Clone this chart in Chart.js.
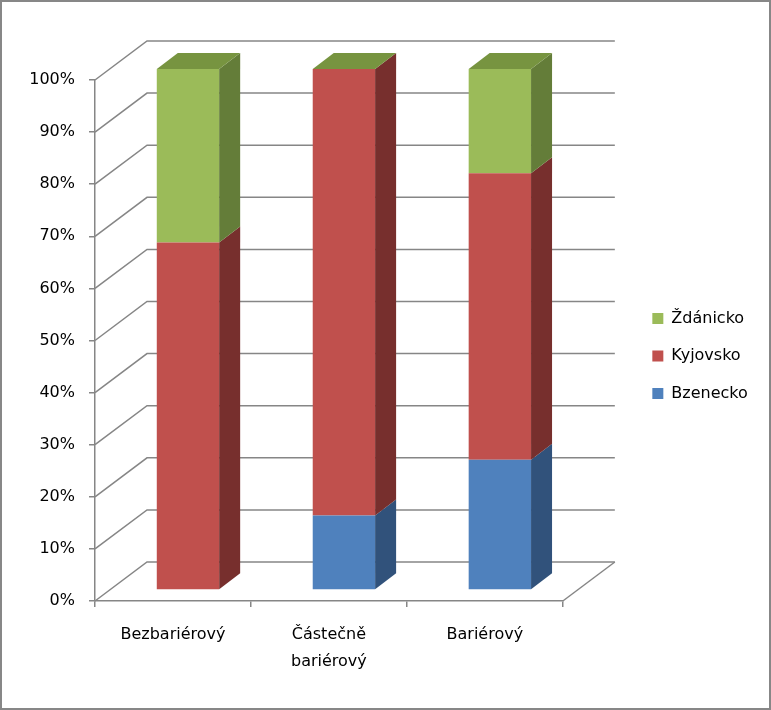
<!DOCTYPE html>
<html lang="cs">
<head>
<meta charset="utf-8">
<title>Bariérovost</title>
<script src="https://cdn.jsdelivr.net/npm/chart.js@4.4.1/dist/chart.umd.min.js"></script>
<style>
	html, body { margin: 0; padding: 0; background: #fff; }
	canvas { display: block; }
</style>
</head>
<body>
<canvas id="chart" width="771" height="710"></canvas>
<script>
// data (procenta, sloupce 100 %)
const categories = ["Bezbariérový", ["Částečně", "bariérový"], "Bariérový"];
const bzenecko = [0, 14.3, 25];
const kyjovsko = [66.7, 85.7, 55];
const zdanicko = [33.3, 0, 20];
const yTicks = [0, 10, 20, 30, 40, 50, 60, 70, 80, 90, 100];

// barvy: přední stěna, bok, vršek
const frontColors = ["#4F81BD", "#C0504D", "#9BBB59"];
const sideColors = ["#31527B", "#772F2D", "#647D39"];
const topColor = "#779440";
const lineColor = "#868686";

// 3D posuny
const wallDepth = { x: 52, y: -39 };
const barShift = { x: 15, y: -11 };
const barDepth = { x: 21, y: -16 };

const fake3d = {
	id: "fake3d",
	beforeDraw(chart) {
		const ctx = chart.ctx;
		ctx.save();
		ctx.fillStyle = "#fff";
		ctx.fillRect(0, 0, chart.width, chart.height);
		ctx.strokeStyle = "#878787";
		ctx.lineWidth = 2;
		ctx.strokeRect(1, 1, chart.width - 2, chart.height - 2);
		ctx.restore();
	},
	beforeDatasetsDraw(chart) {
		const ctx = chart.ctx;
		const area = chart.chartArea;
		const y = chart.scales.y;
		ctx.save();
		ctx.strokeStyle = lineColor;
		ctx.lineWidth = 1.5;
		// zadní stěna s mřížkou
		yTicks.forEach((v) => {
			const py = y.getPixelForValue(v);
			ctx.beginPath();
			ctx.moveTo(area.left, py);
			ctx.lineTo(area.left + wallDepth.x, py + wallDepth.y);
			ctx.lineTo(area.right + wallDepth.x, py + wallDepth.y);
			ctx.stroke();
		});
		// pravý okraj podlahy
		ctx.beginPath();
		ctx.moveTo(area.right, area.bottom);
		ctx.lineTo(area.right + wallDepth.x, area.bottom + wallDepth.y);
		ctx.stroke();
		ctx.restore();

		ctx.save();
		ctx.translate(barShift.x, barShift.y);
	},
	afterDatasetsDraw(chart) {
		const ctx = chart.ctx;
		ctx.restore();
		ctx.save();
		ctx.translate(barShift.x, barShift.y);
		const n = chart.data.datasets.length;
		for (let d = 0; d < n; d++) {
			const meta = chart.getDatasetMeta(d);
			meta.data.forEach((bar) => {
				const p = bar.getProps(["x", "y", "base", "width"], true);
				const xr = p.x + p.width / 2;
				if (Math.abs(p.base - p.y) > 0.5) {
					ctx.fillStyle = sideColors[d];
					ctx.beginPath();
					ctx.moveTo(xr, p.y);
					ctx.lineTo(xr + barDepth.x, p.y + barDepth.y);
					ctx.lineTo(xr + barDepth.x, p.base + barDepth.y);
					ctx.lineTo(xr, p.base);
					ctx.closePath();
					ctx.fill();
				}
				if (d === n - 1) {
					const xl = p.x - p.width / 2;
					ctx.fillStyle = topColor;
					ctx.beginPath();
					ctx.moveTo(xl, p.y);
					ctx.lineTo(xr, p.y);
					ctx.lineTo(xr + barDepth.x, p.y + barDepth.y);
					ctx.lineTo(xl + barDepth.x, p.y + barDepth.y);
					ctx.closePath();
					ctx.fill();
				}
			});
		}
		ctx.restore();
	},
};

Chart.defaults.font.family = "'DejaVu Sans', sans-serif";
Chart.defaults.font.size = 16;
Chart.defaults.color = "#000";

new Chart(document.getElementById("chart"), {
	type: "bar",
	data: {
		labels: categories,
		datasets: [
			{ label: "Bzenecko", data: bzenecko, backgroundColor: frontColors[0] },
			{ label: "Kyjovsko", data: kyjovsko, backgroundColor: frontColors[1] },
			{ label: "Ždánicko", data: zdanicko, backgroundColor: frontColors[2] },
		],
	},
	options: {
		responsive: false,
		animation: false,
		datasets: { bar: { categoryPercentage: 1, barPercentage: 0.4, borderWidth: 0, clip: false } },
		layout: { padding: { left: 10, right: 16, top: 10, bottom: 8 } },
		plugins: {
			tooltip: { enabled: false },
			legend: {
				position: "right",
				reverse: true,
				labels: { boxWidth: 11, boxHeight: 11, padding: 21.5, font: { size: 16 } },
			},
		},
		scales: {
			x: {
				stacked: true,
				grid: { drawOnChartArea: false, tickLength: 6, color: lineColor, lineWidth: 1.5 },
				border: { color: lineColor, width: 1.5 },
				ticks: { padding: 15, maxRotation: 0, font: { size: 16, lineHeight: 1.65 } },
				afterFit: (s) => { s.height = 101; },
			},
			xTop: {
				position: "top",
				type: "category",
				grid: { display: false },
				border: { display: false },
				ticks: { display: false },
				afterFit: (s) => { s.height = 70; },
			},
			y: {
				stacked: true,
				min: 0,
				max: 100,
				grid: { drawOnChartArea: false, tickLength: 6, color: lineColor, lineWidth: 1.5 },
				border: { color: lineColor, width: 1.5 },
				ticks: { stepSize: 10, padding: 14, callback: (v) => v + "%" },
				afterFit: (s) => { s.width = 85; },
			},
			yRight: {
				position: "right",
				type: "linear",
				grid: { display: false },
				border: { display: false },
				ticks: { display: false },
				afterFit: (s) => { s.width = 68; },
			},
		},
	},
	plugins: [fake3d],
});
</script>
</body>
</html>
